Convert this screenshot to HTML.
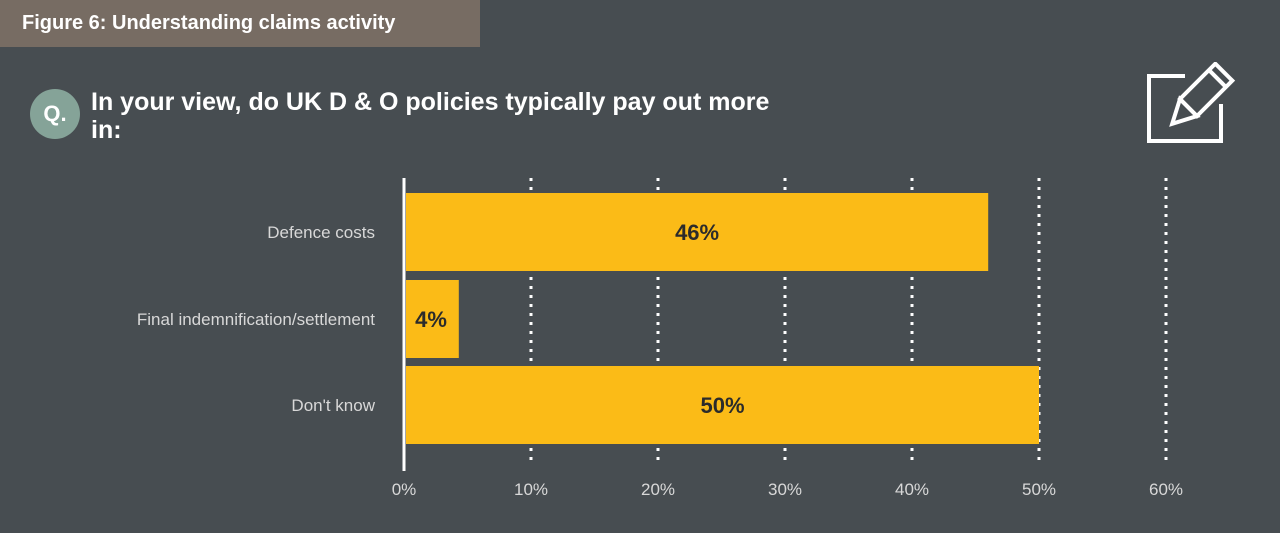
<!DOCTYPE html>
<html><head><meta charset="utf-8"><style>
html,body{margin:0;padding:0;}
body{width:1280px;height:533px;background:#474d51;position:relative;overflow:hidden;font-family:"Liberation Sans",sans-serif;}
#hdr{position:absolute;left:0;top:0;width:480px;height:47px;background:#776c63;color:#fff;font-weight:bold;font-size:20px;line-height:47px;padding-left:22px;box-sizing:border-box;}
#qc{position:absolute;left:30px;top:89px;width:50px;height:50px;border-radius:50%;background:#85a398;color:#fff;font-weight:bold;font-size:22px;text-align:center;line-height:50px;}
#qt{position:absolute;left:91px;top:88px;width:800px;color:#fff;font-weight:bold;font-size:25px;line-height:28px;}
</style></head><body>
<div id="hdr">Figure 6: Understanding claims activity</div>
<div id="qc">Q.</div>
<div id="qt">In your view, do UK D &amp; O policies typically pay out more<br>in:</div>
<svg style="position:absolute;left:1140px;top:62px" width="100" height="90">
<polyline points="45,14 9,14 9,79 81,79 81,42" fill="none" stroke="#fff" stroke-width="4"/>
<g transform="translate(52,42) rotate(-45)"><rect x="-5" y="-12" width="50" height="24" fill="none" stroke="#fff" stroke-width="4"/><polygon points="-5,-12 -5,12 -28,0" fill="none" stroke="#fff" stroke-width="4"/><line x1="36" y1="-12" x2="36" y2="12" stroke="#fff" stroke-width="4"/></g>
</svg>
<svg id="chart" style="position:absolute;left:0;top:0" width="1280" height="533"></svg>
<script>
const categories=["Defence costs","Final indemnification/settlement","Don't know"];
const values=[46,4,50];
const ticks=[0,10,20,30,40,50,60];
const NS="http://www.w3.org/2000/svg";
const svg=document.getElementById('chart');
const x=v=>404+v*12.7;
const rowTop=[193,280,366], bh=78;
function mk(t,a){const e=document.createElementNS(NS,t);for(const k in a)e.setAttribute(k,a[k]);svg.appendChild(e);return e;}
ticks.forEach(t=>{
 if(t>0){const l=mk('line',{x1:x(t),x2:x(t),y1:178,y2:462,stroke:'#fff','stroke-width':3,'stroke-dasharray':'3,6'});
 
 }
 const tx=mk('text',{x:x(t),y:495,fill:'#d8d8d8','font-size':17,'text-anchor':'middle'});
 tx.textContent=t+'%';
 
 
});
categories.forEach((c,i)=>{
 const y=rowTop[i];
 const r=mk('rect',{x:406,y:y,width:x(values[i])-406+(i==1?4:0),height:bh,fill:'#fbbb17'});
 
 
 const w=x(values[i])-406;
 const vt=mk('text',{x:i==1?431:406+w/2,y:y+bh/2+8,fill:'#2b2b2b','font-size':22,'font-weight':'bold','text-anchor':'middle'});
 vt.textContent=values[i]+'%';
 
 
 const lt=mk('text',{x:375,y:y+bh/2+6,fill:'#d8d8d8','font-size':17,'text-anchor':'end'});
 lt.textContent=c;
 
 
});
const ax=mk('line',{x1:404,x2:404,y1:178,y2:471,stroke:'#fff','stroke-width':3});


</script>
</body></html>
